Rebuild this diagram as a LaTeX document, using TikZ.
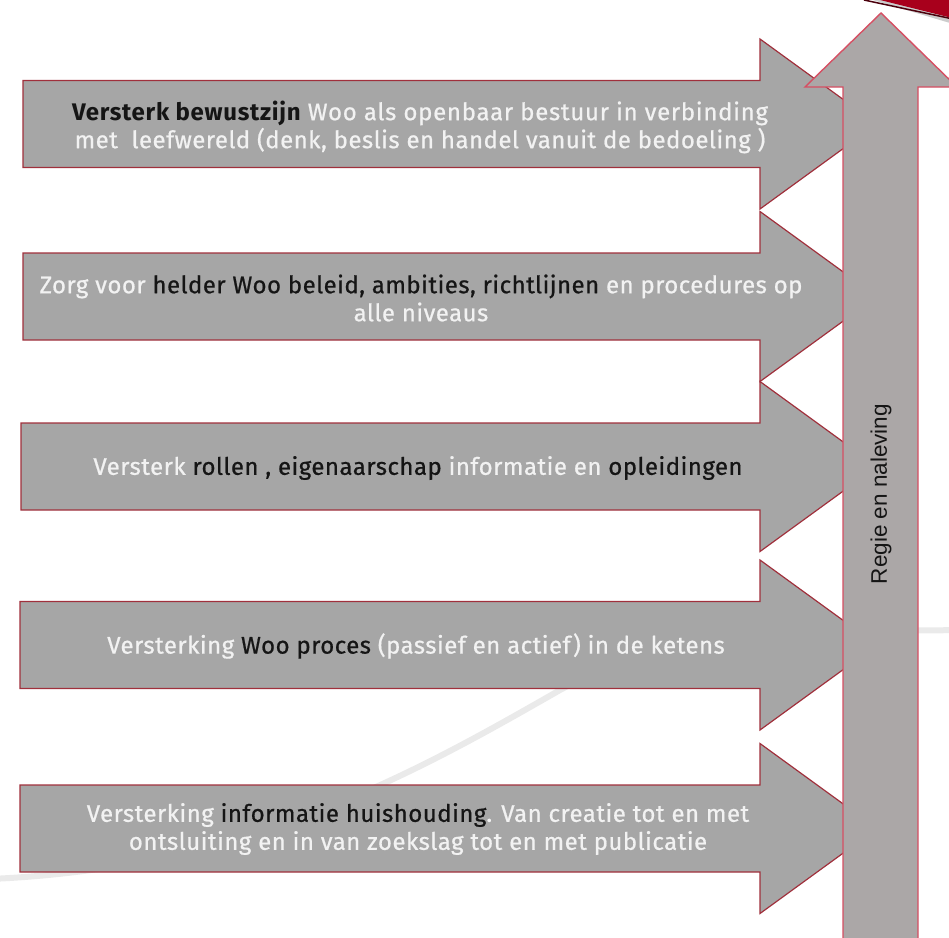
\documentclass[tikz,border=0pt]{standalone}
\usepackage{fontspec}
\setmainfont{Fira Sans}[LetterSpace=2,FakeBold=0.7,BoldFeatures={FakeBold=0}]
\newfontfamily\vfont{Liberation Sans}
\definecolor{arrowfill}{HTML}{A6A6A6}
\definecolor{arrowedge}{HTML}{A0303C}
\definecolor{vfill}{HTML}{ABA7A7}
\definecolor{vedge}{HTML}{D64F63}
\definecolor{wtext}{HTML}{F2F2F2}
\definecolor{btext}{HTML}{151515}
\definecolor{swooshc}{HTML}{EAEAEA}
\definecolor{bandred}{HTML}{A8001C}
\newcommand\wt[1]{\textcolor{wtext}{#1}}
\newcommand\bt[1]{\textcolor{btext}{#1}}
\begin{document}
\begin{tikzpicture}[x=1pt,y=-1pt,
  harrow/.style={fill=arrowfill,draw=arrowedge,line width=1.2pt,line join=miter},
  varrow/.style={fill=vfill,draw=vedge,line width=1.4pt,line join=miter},
  swoosh/.style={draw=swooshc,line width=6pt,line cap=round},
  atext/.style={align=center,font=\fontsize{24}{28}\selectfont,inner sep=0pt}]
\useasboundingbox (0,0) rectangle (949,937);
\begin{scope}
\clip (0,0) rectangle (949,937);
% background swoosh
\draw[swoosh] (-10,879) .. controls (250,868) and (420,770) .. (560,690)
  .. controls (680,625) and (850,632) .. (960,630);
% red band top right
\fill[gray!40] (856,-5) -- (960,-5) -- (960,26) -- cycle;
\fill[bandred] (860,-5) -- (960,-5) -- (960,20) -- cycle;
\draw[black!55!bandred,line width=1.5pt] (864,0) -- (960,20.5);
% horizontal arrows
\foreach \yc/\xl in {124/23,296.5/23,466.5/21,645/20,828.5/20}{
  \draw[harrow] (\xl,\yc-43.5) -- (760,\yc-43.5) -- (760,\yc-85) -- (877,\yc)
    -- (760,\yc+85) -- (760,\yc+43.5) -- (\xl,\yc+43.5) -- cycle;
}
% vertical arrow
\draw[varrow] (843,950) -- (843,87) -- (805,87) -- (881,13) -- (957,87)
  -- (918,87) -- (918,950) -- cycle;
\end{scope}
% texts
\node[atext] (t1) at (420,127) {\addfontfeatures{LetterSpace=3}\bt{\bfseries Versterk bewustzijn} \wt{Woo als openbaar bestuur in verbinding}\\
  \wt{met\ \ leefwereld (denk, beslis en handel vanuit de bedoeling )}};
\node[atext] (t2) at (421,298) {\wt{Zorg voor} \bt{helder Woo beleid, ambities, richtlijnen} \wt{en procedures op}\\
  \wt{alle niveaus}};
\node[atext] (t3) at (418,468) {\wt{Versterk} \bt{rollen , eigenaarschap} \wt{informatie en} \bt{opleidingen}};
\node[atext] (t4) at (416,646) {\wt{Versterking} \bt{Woo proces} \wt{(passief en actief) in de ketens}};
\node[atext] (t5) at (418,829) {\wt{Versterking} \bt{informatie huishouding}\wt{. Van creatie tot en met}\\
  \wt{ontsluiting en in van zoekslag tot en met publicatie}};
\node[rotate=90,inner sep=0pt,text=btext,font=\vfont\fontsize{22.5}{26}\selectfont] (reg) at (881,494) {Regie en naleving};
\end{tikzpicture}
\end{document}
